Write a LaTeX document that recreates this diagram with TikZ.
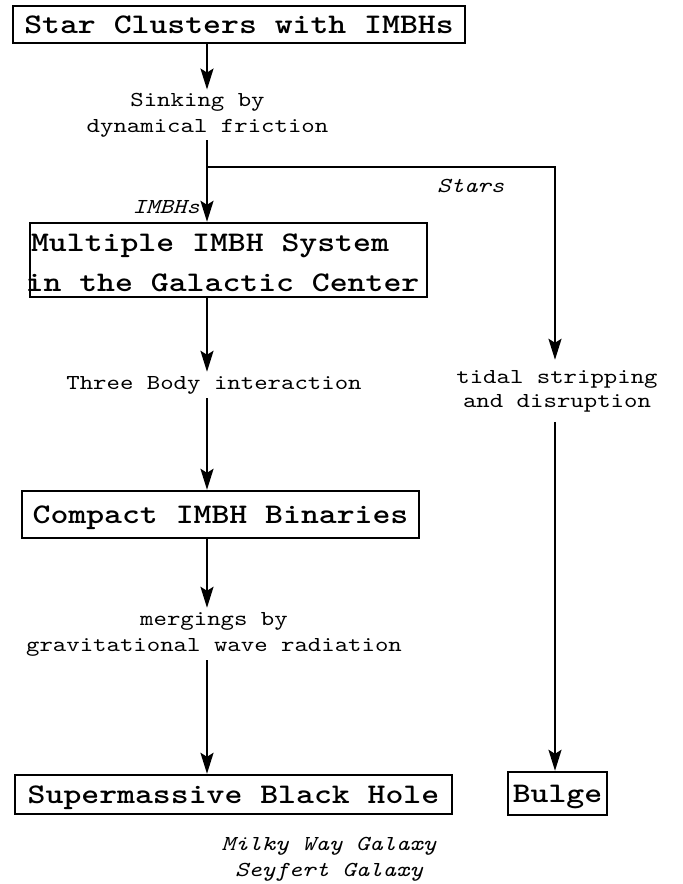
\documentclass[tikz,border=0pt]{standalone}
\usepackage{fontspec}
\usetikzlibrary{arrows.meta}
\newfontfamily\lmm[FakeStretch=1.2,BoldFont=lmmonolt10-bold.otf,ItalicFont=lmmono10-italic.otf]{lmmono10-regular.otf}
\newcommand\bft{\lmm\bfseries\fontsize{28.4bp}{40bp}\selectfont}
\newcommand\rgt{\lmm\fontsize{21.3bp}{26bp}\selectfont}
\newcommand\itt{\lmm\itshape\fontsize{21.3bp}{26bp}\selectfont}
\newcommand\twolines[3]{\vtop{\baselineskip=#1\lineskiplimit=-100bp\halign{\hfil##\hfil\cr #2\cr #3\cr}}}
\begin{document}
\begin{tikzpicture}[x=1bp,y=-1bp,
  box/.style={draw, line width=2.4bp, inner sep=0pt, font=\bft, text height=18bp, text depth=0bp},
  lbl/.style={inner xsep=0pt, inner ysep=4bp, font=\rgt},
  arr/.style={-{Stealth[length=21bp,width=13bp,inset=4bp]}, line width=2.1bp}]
\useasboundingbox (0,0) rectangle (683,884);
\fill[white] (0,0) rectangle (683,884);
\coordinate (spine) at (207,0);
\coordinate (rspine) at (555,0);
% boxes
\node[box, minimum width=452bp, minimum height=37bp] (clusters) at (239,24.5) {Star Clusters with IMBHs};
\node[box, text height=22bp, text depth=40bp, minimum width=397bp, minimum height=74bp] (system) at (228.5,260)
  {\hbox{\kern-12bp\twolines{40bp}{Multiple IMBH System\kern25bp}{in the Galactic Center}}};
\node[box, minimum width=397bp, minimum height=47bp] (binaries) at (220.5,514.5) {Compact IMBH Binaries};
\node[box, minimum width=437bp, minimum height=39bp] (sbh) at (233.5,794.5) {Supermassive Black Hole};
\node[box, minimum width=99bp, minimum height=43bp] (bulge) at (557.5,793.5) {Bulge};
% labels
\node[lbl, anchor=base, inner ysep=3bp] (sink) at (207.5,106) {\twolines{26bp}{Sinking by\kern20bp}{dynamical friction}};
\node[lbl, font=\itt, anchor=base east] (imbhs) at (200,213) {IMBHs};
\node[lbl, font=\itt, anchor=base west] (stars) at (437,192) {Stars};
\node[lbl, anchor=base] (three) at (214,389) {Three Body interaction};
\node[lbl, anchor=base, inner ysep=10bp] (tidal) at (557,383) {\twolines{24bp}{tidal stripping}{and disruption}};
\node[lbl, anchor=base] (merg) at (214,625) {\twolines{26bp}{mergings by}{gravitational wave radiation}};
\node[lbl, font=\itt, anchor=base] (hosts) at (329,850) {\twolines{26bp}{Milky Way Galaxy}{Seyfert Galaxy}};
% connectors
\coordinate (branch) at (207,167);
\draw[arr] (spine |- clusters.south) -- (spine |- sink.north);
\draw[arr] (spine |- sink.south) -- (spine |- system.north);
\draw[arr] (branch) -| (rspine |- tidal.north);
\draw[arr] (spine |- system.south) -- (spine |- three.north);
\draw[arr] (spine |- three.south) -- (spine |- binaries.north);
\draw[arr] (spine |- binaries.south) -- (spine |- merg.north);
\draw[arr] (spine |- merg.south) -- (spine |- sbh.north);
\draw[arr] (rspine |- tidal.south) -- (rspine |- bulge.north);
\end{tikzpicture}
\end{document}
